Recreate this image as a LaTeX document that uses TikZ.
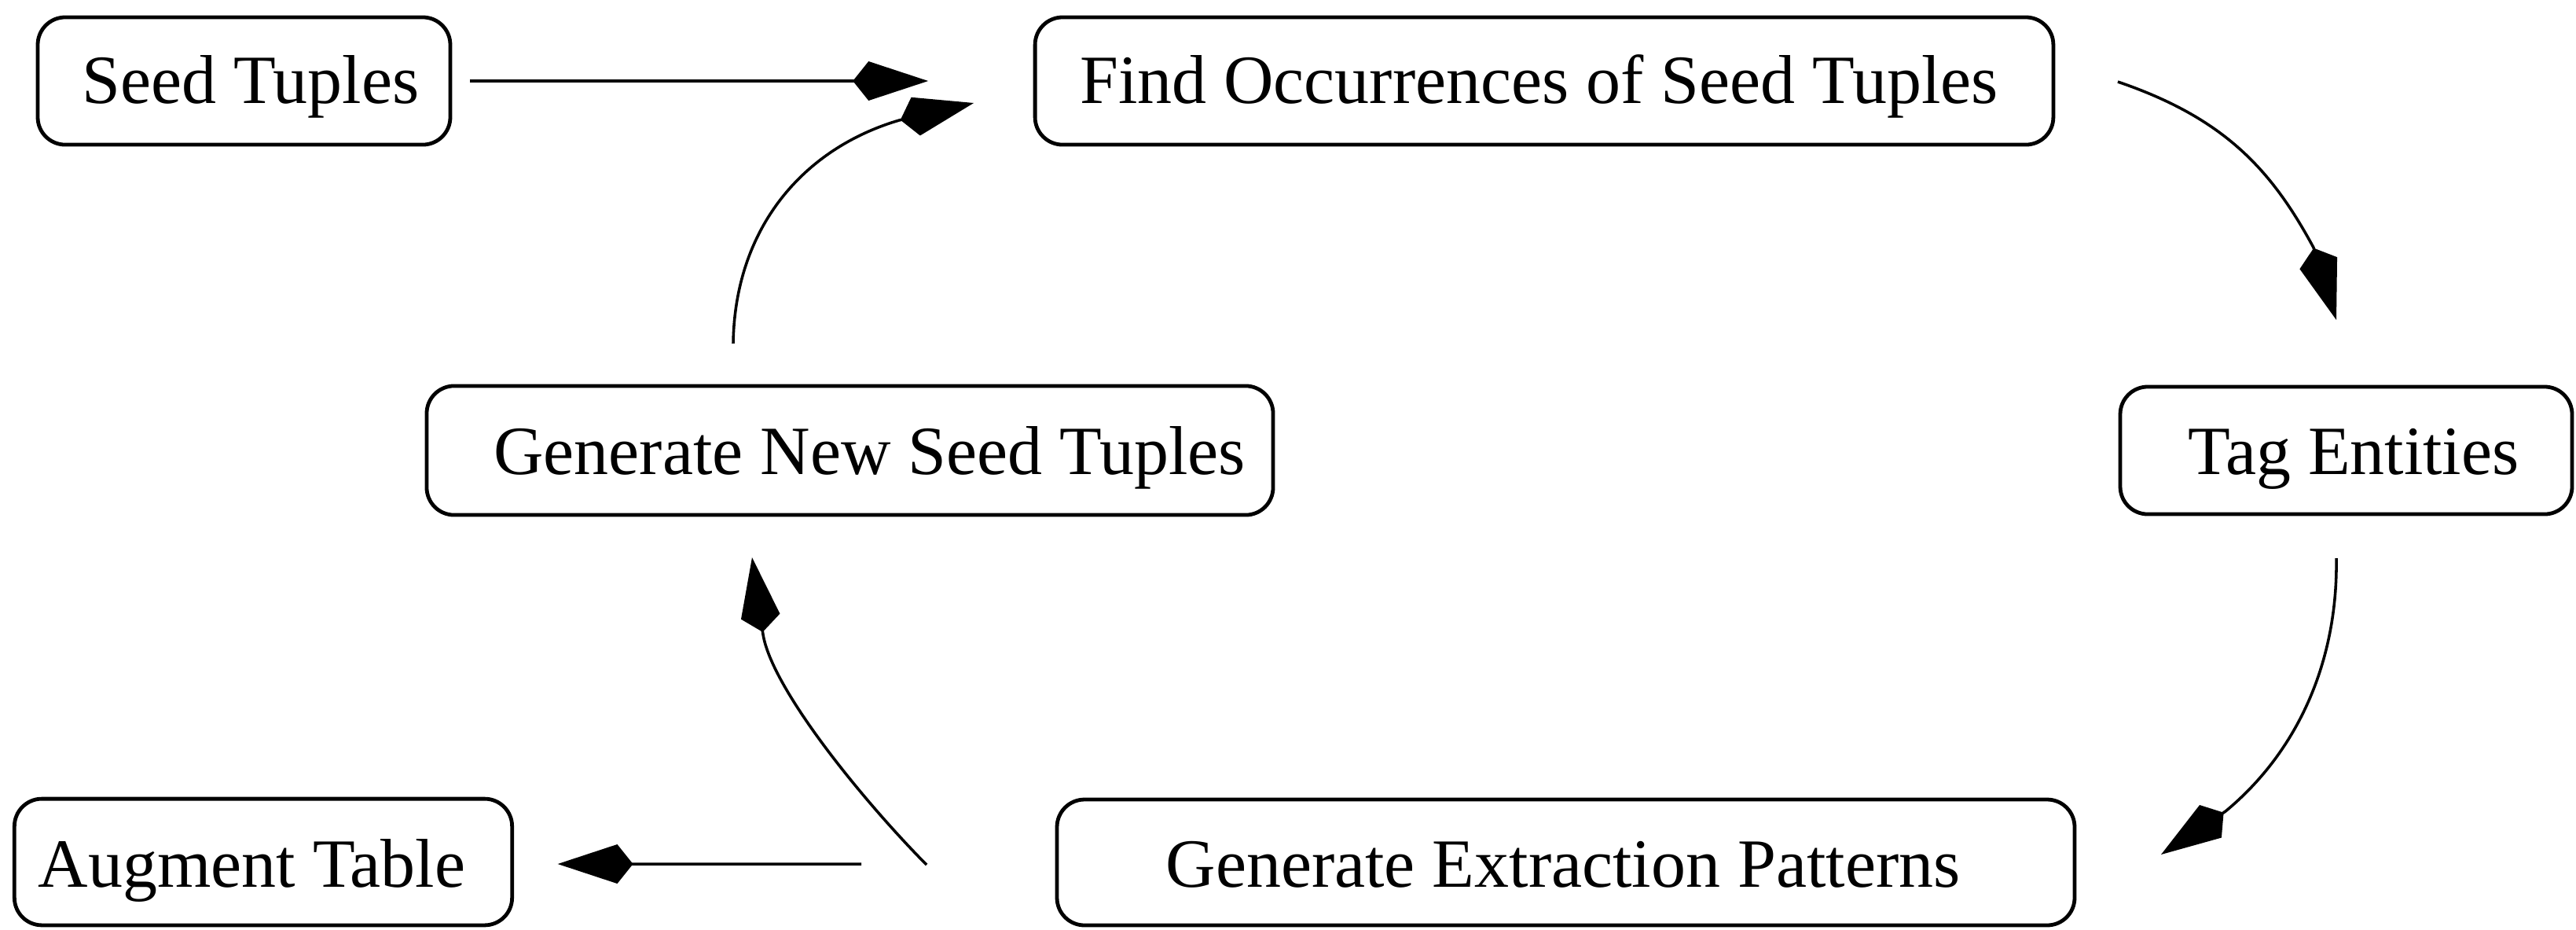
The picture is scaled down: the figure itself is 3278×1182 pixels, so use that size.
\documentclass[tikz,border=0pt]{standalone}
\usepackage{fontspec}
\setmainfont{Liberation Serif}
\usetikzlibrary{arrows.meta}
\begin{document}
\begin{tikzpicture}[x=0.24pt,y=-0.24pt,
  box/.style={draw, line width=1.15pt, rounded corners=8.4pt, inner sep=0pt, outer sep=0pt},
  lbl/.style={anchor=base, inner sep=0pt, outer sep=0pt, font=\fontsize{21.1pt}{25pt}\selectfont},
  conn/.style={line width=0.85pt, -{Kite[length=23pt, width=12pt, inset=4.8pt]}}]
\useasboundingbox (0,0) rectangle (3278,1182);
% boxes
\node[box, minimum width=126pt, minimum height=38.9pt] (seed) at (310.5,103) {};
\node[box, minimum width=311pt, minimum height=38.9pt] (find) at (1965,103) {};
\node[box, minimum width=138pt, minimum height=38.9pt] (tag) at (2985.5,573) {};
\node[box, minimum width=258.5pt, minimum height=39.4pt] (gns) at (1081.5,573) {};
\node[box, minimum width=152pt, minimum height=38.6pt] (aug) at (335,1096.5) {};
\node[box, minimum width=310.8pt, minimum height=38.4pt] (gep) at (1992.5,1097) {};
% labels
\node[lbl] (seedt) at (319,131) {Seed Tuples};
\node[lbl] (findt) at (1958.5,131) {Find Occurrences of Seed Tuples};
\node[lbl] (tagt) at (2995,603) {Tag Entities};
\node[lbl] (gnst) at (1106.5,603) {Generate New Seed Tuples};
\node[lbl] (augt) at (320.5,1128) {Augment Table};
\node[lbl] (gept) at (1989,1128) {Generate Extraction Patterns};
% connectors
\draw[conn] ([shift={(25,0)}]seed.east) -- ([shift={(-136,0)}]find.west);
\draw[conn] ([shift={(-148.5,-54)}]gns.north) .. controls (935,290) and (1022,189) .. ([shift={(-173,50)}]find.west) -- ([shift={(-78,28)}]find.west);
\draw[conn] ([shift={(82,1)}]find.east) .. controls (2830,150) and (2890,215) .. ([shift={(-41.5,-177)}]tag.north) -- ([shift={(-12.5,-85)}]tag.north);
\draw[conn] ([shift={(-12.5,56)}]tag.south) .. controls (2975,840) and (2925,955) .. ([shift={(192,-65)}]gep.east) -- ([shift={(110,-10)}]gep.east);
\draw[conn] ([shift={(-166,3)}]gep.west) .. controls (1095,1015) and (982,875) .. ([shift={(-110.5,152)}]gns.south) -- ([shift={(-124.5,54)}]gns.south);
\draw[conn] ([shift={(-249,2)}]gep.west) -- ([shift={(58,2.5)}]aug.east);
\end{tikzpicture}
\end{document}
